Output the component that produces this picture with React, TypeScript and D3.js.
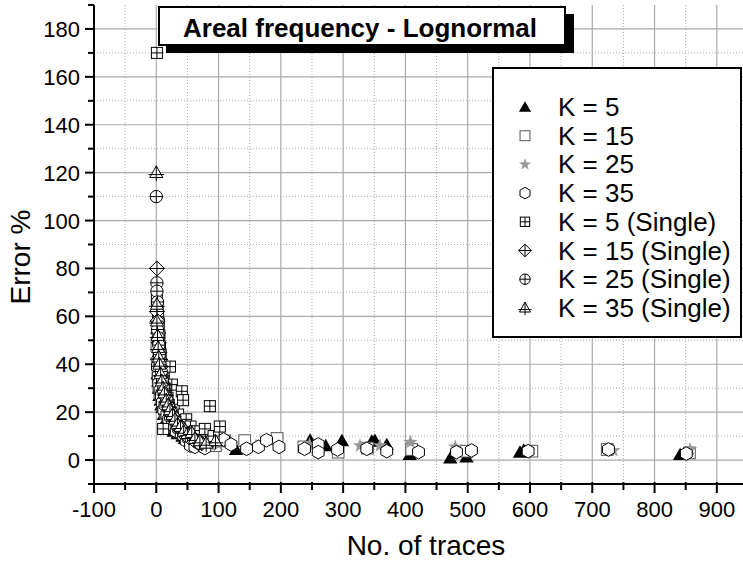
import React, { useEffect, useRef } from "react";
import * as d3 from "d3";

// [No. of traces, Error %]
const k5 = [[1, 44], [2, 36], [3, 33], [4, 30], [5, 27], [6, 31], [7, 25], [8, 23], [10, 22], [12, 19], [14, 21], [16, 17], [18, 16], [20, 18], [22, 14], [25, 15], [28, 12], [30, 13], [34, 11], [38, 12], [42, 10], [46, 9], [50, 10], [55, 8], [60, 9], [66, 7], [72, 8], [80, 6], [90, 7], [128, 4.4], [247, 8.3], [272, 6], [298, 8.1], [346, 7.9], [351, 8.2], [370, 6.5], [407, 2.3], [472, 0.9], [498, 1.3], [584, 3.3], [590, 4.2], [841, 2.3]];
const k15 = [[1, 48], [2, 40], [3, 35], [4, 31], [5, 34], [6, 28], [8, 26], [9, 30], [11, 23], [13, 25], [15, 20], [17, 22], [19, 18], [21, 19], [24, 16], [27, 17], [30, 14], [33, 15], [37, 12], [41, 13], [45, 11], [50, 10], [56, 9], [62, 10], [68, 8], [75, 7], [85, 6.5], [95, 6], [110, 8], [142, 8.1], [194, 9], [237, 5.5], [292, 3.3], [339, 5], [410, 4.4], [498, 3.7], [603, 3.7], [724, 4.4], [856, 3]];
const k25 = [[1, 42], [2, 38], [3, 31], [4, 29], [5, 26], [7, 27], [9, 22], [11, 24], [13, 19], [15, 20], [18, 17], [21, 16], [24, 15], [27, 14], [31, 13], [35, 12], [40, 11], [44, 12], [49, 9], [54, 10], [59, 8], [65, 9], [71, 7], [78, 7.5], [88, 6], [100, 6.5], [160, 6], [246, 6.5], [327, 6], [359, 6], [408, 7.4], [480, 5.5], [734, 4], [857, 4.4]];
const k35 = [[2, 39], [3, 35], [4, 32], [6, 29], [8, 27], [10, 24], [12, 21], [14, 23], [17, 19], [20, 17], [23, 18], [26, 15], [29, 14], [32, 12], [36, 13], [40, 11], [44, 10], [48, 8], [52, 9], [55, 6], [62, 5.5], [68, 7], [74, 6], [78, 5], [86, 7.9], [108, 8.6], [120, 6.5], [145, 4.7], [164, 5.5], [177, 8.3], [197, 5.5], [238, 4.7], [260, 6.5], [260, 3.3], [291, 4.4], [338, 4.7], [370, 3.7], [421, 3.3], [482, 3.3], [506, 4], [597, 3.7], [726, 4.4], [851, 2.7]];
const k5Single = [[1, 170], [1, 67], [2, 64], [3, 60], [4, 57], [5, 52], [6, 47], [7, 44], [8, 40], [10, 37], [12, 34], [22, 39], [25, 31.5], [15, 29], [18, 26], [20, 23], [28, 21], [41, 28.7], [43, 25], [35, 19], [11, 13], [48, 17], [55, 14], [62, 12], [70, 10], [78, 13], [86, 22.5], [92, 10], [102, 14]];
const k15Single = [[1, 80], [1, 62], [2, 58], [3, 53], [4, 49], [5, 45], [6, 42], [7, 39], [9, 35], [11, 32], [13, 29], [15, 27], [18, 24], [21, 22], [24, 20], [28, 18], [32, 16], [36, 15], [41, 13], [46, 12], [52, 10], [58, 9], [65, 8], [73, 7]];
const k25Single = [[0, 110], [1, 74], [1, 70.5], [2, 66], [2, 54.5], [3, 51], [4, 48], [5, 44], [6, 40], [8, 37], [10, 33], [12, 30], [14, 27], [17, 25], [20, 22], [23, 20], [27, 18], [31, 16], [35, 14], [40, 13], [45, 11], [50, 10], [56, 9], [63, 8], [70, 7]];
const k35Single = [[0, 120], [1, 65], [1, 58], [2, 52], [3, 47], [4, 43], [5, 40], [7, 36], [9, 33], [11, 30], [13, 28], [16, 25], [19, 23], [22, 21], [26, 19], [30, 17], [34, 15], [39, 14], [44, 12], [50, 11], [57, 11.5], [62, 9], [70, 8], [80, 7], [95, 8]];

const labels = ["K = 5", "K = 15", "K = 25", "K = 35", "K = 5 (Single)", "K = 15 (Single)", "K = 25 (Single)", "K = 35 (Single)"];
const shapes = ["triangle", "square", "star", "hexagon", "squarePlus", "diamondPlus", "circlePlus", "trianglePlus"];
const seriesData = [k5, k15, k25, k35, k5Single, k15Single, k25Single, k35Single];

const xTicks = d3.range(-100, 901, 100);
const yTicks = d3.range(0, 181, 20);

const FONT = "'Liberation Sans', Arial, sans-serif";

const drawMarker = (g, shape, s) => {
    const h = s / 2;
    const line = (x1, y1, x2, y2) =>
        g.append("line").attr("x1", x1).attr("y1", y1).attr("x2", x2).attr("y2", y2)
            .attr("stroke", "black").attr("stroke-width", 1);
    if (shape === "triangle") {
        g.append("path").attr("d", `M0,${-h * 1.05}L${h * 1.1},${h * 0.85}L${-h * 1.1},${h * 0.85}Z`).attr("fill", "black");
    } else if (shape === "square") {
        g.append("rect").attr("x", -h * 0.9).attr("y", -h * 0.9).attr("width", h * 1.8).attr("height", h * 1.8)
            .attr("fill", "white").attr("stroke", "#555").attr("stroke-width", 1);
    } else if (shape === "star") {
        const pts = d3.range(10).map(i => {
            const r = i % 2 === 0 ? h * 1.15 : h * 0.47;
            const a = -Math.PI / 2 + i * Math.PI / 5;
            return [r * Math.cos(a), r * Math.sin(a)];
        });
        g.append("path").attr("d", "M" + pts.join("L") + "Z").attr("fill", "#999");
    } else if (shape === "hexagon") {
        const pts = d3.range(6).map(i => {
            const a = -Math.PI / 2 + i * Math.PI / 3;
            return [h * 1.05 * Math.cos(a), h * 1.05 * Math.sin(a)];
        });
        g.append("path").attr("d", "M" + pts.join("L") + "Z").attr("fill", "white").attr("stroke", "black").attr("stroke-width", 1);
    } else if (shape === "squarePlus") {
        g.append("rect").attr("x", -h * 0.85).attr("y", -h * 0.85).attr("width", h * 1.7).attr("height", h * 1.7)
            .attr("fill", "white").attr("stroke", "black").attr("stroke-width", 1);
        line(-h * 0.85, 0, h * 0.85, 0);
        line(0, -h * 0.85, 0, h * 0.85);
    } else if (shape === "diamondPlus") {
        const r = h * 1.15;
        g.append("path").attr("d", `M0,${-r}L${r},0L0,${r}L${-r},0Z`).attr("fill", "white").attr("stroke", "black").attr("stroke-width", 1);
        line(-r, 0, r, 0);
        line(0, -r, 0, r);
    } else if (shape === "circlePlus") {
        g.append("circle").attr("r", h * 0.95).attr("fill", "white").attr("stroke", "black").attr("stroke-width", 1);
        line(-h * 0.95, 0, h * 0.95, 0);
        line(0, -h * 0.95, 0, h * 0.95);
    } else if (shape === "trianglePlus") {
        g.append("path").attr("d", `M0,${-h * 1.05}L${h},${h * 0.75}L${-h},${h * 0.75}Z`).attr("fill", "white").attr("stroke", "black").attr("stroke-width", 1);
        line(0, -h * 1.05, 0, h * 1.3);
        line(-h * 1.2, h * 0.3, h * 1.2, h * 0.3);
    }
};

const App = () => {
    const ref = useRef(null);
    const width = 743;
    const height = 562;
    const left = 94;
    const right = 743;
    const top = 5;
    const bottom = 484;

    useEffect(() => {
        const svg = d3.select(ref.current);
        svg.selectAll("*").remove();

        const x = d3.scaleLinear().domain([-100, 942]).range([left, right]);
        const y = d3.scaleLinear().domain([-10, 190]).range([bottom, top]);

        // Grid
        const grid = svg.append("g");
        d3.range(-50, 942, 100).forEach(v => {
            grid.append("line").attr("x1", x(v)).attr("x2", x(v)).attr("y1", top).attr("y2", bottom)
                .attr("stroke", "#aaa").attr("stroke-dasharray", "1,2");
        });
        d3.range(0, 191, 20).map(v => v - 10).forEach(v => {
            grid.append("line").attr("x1", left).attr("x2", right).attr("y1", y(v)).attr("y2", y(v))
                .attr("stroke", "#aaa").attr("stroke-dasharray", "1,2");
        });
        xTicks.slice(1).forEach(v => {
            grid.append("line").attr("x1", x(v)).attr("x2", x(v)).attr("y1", top).attr("y2", bottom)
                .attr("stroke", "#aaa").attr("stroke-width", 1.2);
        });
        yTicks.forEach(v => {
            grid.append("line").attr("x1", left).attr("x2", right).attr("y1", y(v)).attr("y2", y(v))
                .attr("stroke", "#aaa").attr("stroke-width", 1.2);
        });

        // Points
        seriesData.forEach((data, i) => {
            const sg = svg.append("g");
            data.forEach(d => {
                const g = sg.append("g").attr("transform", `translate(${x(d[0])},${y(d[1])})`);
                drawMarker(g, shapes[i], 13);
            });
        });

        // Axes
        const axes = svg.append("g");
        axes.append("line").attr("x1", left).attr("x2", right).attr("y1", bottom).attr("y2", bottom)
            .attr("stroke", "black").attr("stroke-width", 2);
        axes.append("line").attr("x1", left).attr("x2", left).attr("y1", top).attr("y2", bottom + 1)
            .attr("stroke", "black").attr("stroke-width", 2);
        d3.range(-100, 942, 50).forEach(v => {
            const major = v % 100 === 0;
            axes.append("line").attr("x1", x(v)).attr("x2", x(v)).attr("y1", bottom - 2).attr("y2", bottom + (major ? 9 : 6))
                .attr("stroke", "black").attr("stroke-width", 2);
        });
        d3.range(-10, 191, 10).forEach(v => {
            const major = v % 20 === 0;
            axes.append("line").attr("x1", left - (major ? 9 : 6)).attr("x2", left).attr("y1", y(v)).attr("y2", y(v))
                .attr("stroke", "black").attr("stroke-width", 2);
        });
        xTicks.forEach(v => {
            axes.append("text").attr("x", x(v)).attr("y", 517).attr("text-anchor", "middle")
                .attr("font-family", FONT).attr("font-size", 22).text(v);
        });
        yTicks.forEach(v => {
            axes.append("text").attr("x", 80).attr("y", y(v) + 8).attr("text-anchor", "end")
                .attr("font-family", FONT).attr("font-size", 22).text(v);
        });
        axes.append("text").attr("x", 426).attr("y", 555).attr("text-anchor", "middle")
            .attr("font-family", FONT).attr("font-size", 28).text("No. of traces");
        axes.append("text").attr("transform", "translate(30,257) rotate(-90)").attr("text-anchor", "middle")
            .attr("font-family", FONT).attr("font-size", 28).text("Error %");

        // Title
        svg.append("rect").attr("x", 166).attr("y", 14).attr("width", 408).attr("height", 39).attr("fill", "black");
        svg.append("rect").attr("x", 159).attr("y", 7).attr("width", 406).attr("height", 38)
            .attr("fill", "white").attr("stroke", "black").attr("stroke-width", 2);
        svg.append("text").attr("x", 183).attr("y", 37).attr("font-family", FONT).attr("font-weight", "bold")
            .attr("font-size", 26).text("Areal frequency - Lognormal");

        // Legend
        const legend = svg.append("g");
        legend.append("rect").attr("x", 493).attr("y", 68).attr("width", 248).attr("height", 269)
            .attr("fill", "white").attr("stroke", "black").attr("stroke-width", 2);
        labels.forEach((label, i) => {
            const cy = 107 + i * 28.7;
            const g = legend.append("g").attr("transform", `translate(525,${cy})`);
            drawMarker(g, shapes[i], 11);
            legend.append("text").attr("x", 558).attr("y", cy + 9).attr("font-family", FONT)
                .attr("font-size", 26).text(label);
        });
    }, []);

    return (
        <svg ref={ref} width={width} height={height}
             style={{position: "absolute", left: 0, top: 0, background: "white"}} />
    );
};

export default App;
